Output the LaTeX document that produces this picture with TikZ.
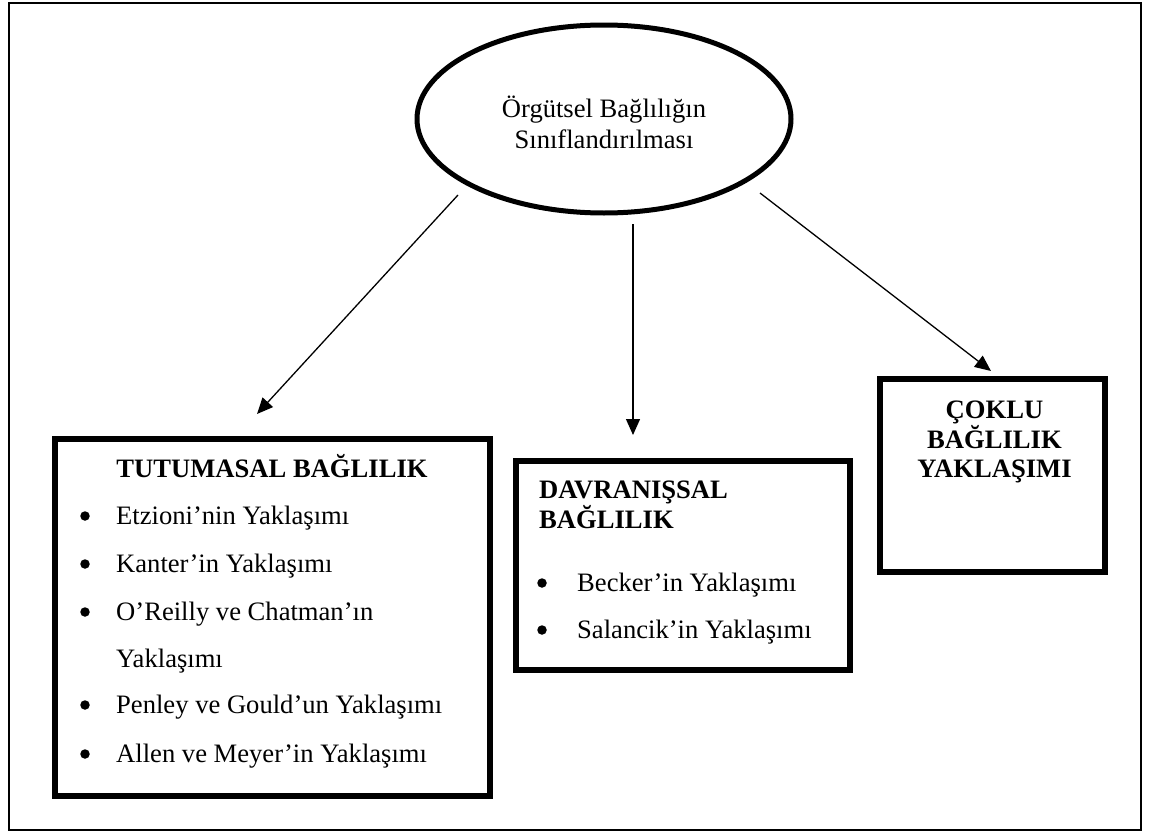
\documentclass[tikz,border=0pt]{standalone}
\usepackage{fontspec}
\setmainfont{Liberation Serif}
\usetikzlibrary{shapes.geometric,arrows.meta}
\begin{document}
\begin{tikzpicture}[x=1pt,y=-1pt,
  txt/.style={inner sep=0pt, font=\fontsize{26.6}{31}\selectfont},
  btxt/.style={inner sep=0pt, font=\fontsize{26.6}{31}\selectfont\bfseries},
  boxframe/.style={draw, line width=6pt, inner sep=0pt},
  conn/.style={line width=1.3pt, -{Triangle[length=16pt,width=14pt]}},
  dot/.style={circle, fill, inner sep=0pt, minimum size=9.5pt}]
\useasboundingbox (0,0) rectangle (1152,835);
\node[draw, line width=1.5pt, inner sep=0pt, minimum width=1132pt, minimum height=827pt] (frame) at (575,416.5) {};

% central ellipse
\node[ellipse, draw, line width=5pt, inner sep=0pt, minimum width=374pt, minimum height=188pt] (cls) at (604,119) {};
\node[txt, anchor=base] (clsA) at (604,117) {Örgütsel Bağlılığın};
\node[txt, anchor=base] (clsB) at (604,148) {Sınıflandırılması};

% boxes
\node[boxframe, minimum width=435pt, minimum height=357pt] (tut) at (272.5,617.5) {};
\node[boxframe, minimum width=334pt, minimum height=209pt] (dav) at (682.5,565) {};
\node[boxframe, minimum width=225pt, minimum height=193pt] (cok) at (992.5,475.5) {};

% connectors
\coordinate (s1) at (458,195); \coordinate (e1) at (257,414);
\coordinate (s2) at (633,224); \coordinate (e2) at (633,435);
\coordinate (s3) at (760,193); \coordinate (e3) at (991,371);
\draw[conn] (s1) -- (e1);
\draw[conn] (s2) -- (e2);
\draw[conn] (s3) -- (e3);

% left box text
\node[btxt, anchor=base] (tutT) at (272,477) {TUTUMASAL BAĞLILIK};
\node[txt, anchor=base west] (t1) at (116,524) {Etzioni’nin Yaklaşımı};
\node[txt, anchor=base west] (t2) at (116,572) {Kanter’in Yaklaşımı};
\node[txt, anchor=base west] (t3) at (116,620) {O’Reilly ve Chatman’ın};
\node[txt, anchor=base west] (t3b) at (116,667) {Yaklaşımı};
\node[txt, anchor=base west] (t4) at (116,713) {Penley ve Gould’un Yaklaşımı};
\node[txt, anchor=base west] (t5) at (116,762) {Allen ve Meyer’in Yaklaşımı};
\node[dot] (b1) at (85,516) {};
\node[dot] (b2) at (85,564) {};
\node[dot] (b3) at (85,612) {};
\node[dot] (b4) at (85,705) {};
\node[dot] (b5) at (85,754) {};

% middle box text
\node[btxt, anchor=base west] (davT1) at (539,498) {DAVRANIŞSAL};
\node[btxt, anchor=base west] (davT2) at (539,528) {BAĞLILIK};
\node[txt, anchor=base west] (d1) at (577,591) {Becker’in Yaklaşımı};
\node[txt, anchor=base west] (d2) at (577,638) {Salancik’in Yaklaşımı};
\node[dot] (db1) at (542,583) {};
\node[dot] (db2) at (542,630) {};

% right box text
\node[btxt, anchor=base] (cokT1) at (994.5,418) {ÇOKLU};
\node[btxt, anchor=base] (cokT2) at (994.5,448) {BAĞLILIK};
\node[btxt, anchor=base] (cokT3) at (994.5,477) {YAKLAŞIMI};
\end{tikzpicture}
\end{document}
